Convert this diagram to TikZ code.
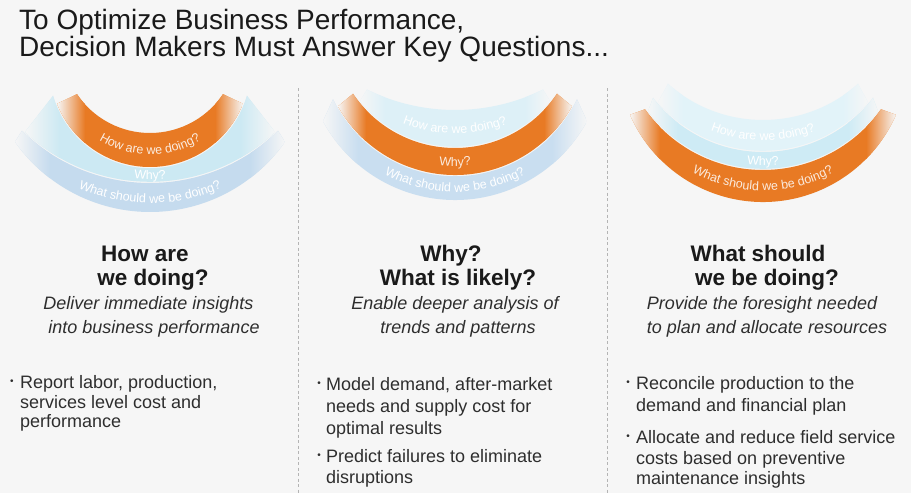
\documentclass[tikz,border=0pt]{standalone}
\usepackage{fontspec}
\setmainfont{Liberation Sans}
\usetikzlibrary{decorations.text}
\definecolor{bgc}{HTML}{F6F6F6}
\definecolor{orangeC}{HTML}{E87A24}
\definecolor{blueA}{HTML}{C5DBEE}
\definecolor{cyanA}{HTML}{CCE9F3}
\definecolor{paleB}{HTML}{DDF0F7}
\definecolor{blueB}{HTML}{C9DEF0}
\definecolor{cyanC}{HTML}{CEEBF5}
\definecolor{paleC}{HTML}{E2F3F9}
\definecolor{inkA}{HTML}{1A1A1A}
\definecolor{inkB}{HTML}{2E2E2E}
\definecolor{sepc}{HTML}{B4B4B4}
% band: colour, cx, cy(outer), R(outer), dx(outer end), cy(inner), R(inner), dx(inner end), fade width
\newcommand{\drawband}[9]{%
  \pgfmathsetmacro{\aO}{acos((#5)/(#4))}%
  \pgfmathsetmacro{\aI}{acos((#8)/(#7))}%
  \pgfmathsetmacro{\xOs}{(#2)-(#5)}%
  \pgfmathsetmacro{\yOs}{0-(#3)-(#4)*sin(\aO)}%
  \pgfmathsetmacro{\xIs}{(#2)+(#8)}%
  \pgfmathsetmacro{\yIs}{0-(#6)-(#7)*sin(\aI)}%
  \pgfmathsetmacro{\bxL}{(#2)-max(#5,#8)}%
  \pgfmathsetmacro{\bxR}{(#2)+max(#5,#8)}%
  \pgfmathsetmacro{\bxLf}{\bxL+(#9)}%
  \pgfmathsetmacro{\bxRf}{\bxR-(#9)}%
  \begin{scope}
    \clip (\xOs,\yOs) arc[start angle=180+\aO, end angle=360-\aO, radius=#4]
      -- (\xIs,\yIs) arc[start angle=360-\aI, end angle=180+\aI, radius=#7] -- cycle;
    \fill[#1] (\bxL,-40) rectangle (\bxR,-240);
    \shade[left color=bgc,right color=#1] (\bxL,-40) rectangle (\bxLf,-240);
    \shade[left color=#1,right color=bgc] (\bxRf,-40) rectangle (\bxR,-240);
  \end{scope}}
\newcommand{\arctext}[5]{%
  \pgfmathsetmacro{\txs}{(#1)+(#3)*cos(200)}%
  \pgfmathsetmacro{\tys}{0-(#2)+(#3)*sin(200)}%
  \path[decorate, decoration={text along path, text align=center,
    text={|\color{#4}\fontsize{12.5}{13}\selectfont|#5}}]
    (\txs,\tys) arc[start angle=200, end angle=340, radius=#3];}
\tikzset{
  ttl/.style={font=\fontsize{28}{30}\selectfont, text=inkA, inner sep=0pt, anchor=base west},
  hd/.style={font=\bfseries\fontsize{22.5}{24}\selectfont, text=inkA, inner sep=0pt, anchor=base},
  sb/.style={font=\itshape\fontsize{18}{20}\selectfont, text=inkB, inner sep=0pt, anchor=base},
  bl/.style={font=\fontsize{18}{20}\selectfont, text=inkB, inner sep=0pt, anchor=base west},
  dot/.style={font=\fontsize{10}{10}\selectfont, text=inkB, inner sep=0pt, anchor=center},
  sepline/.style={draw=sepc, line width=0.9pt, dash pattern=on 3pt off 2.5pt}
}
\begin{document}
\begin{tikzpicture}[x=1pt,y=1pt]
\fill[bgc] (0,0) rectangle (911,-493);
\useasboundingbox (0,0) rectangle (911,-493);

% ---- column 1 arcs
\drawband{blueA}{150}{47}{165}{135}{0}{183}{128}{35}
\drawband{cyanA}{150}{0}{181.8}{125}{67}{101.2}{97}{35}
\drawband{orangeC}{150}{67}{100}{93}{45}{88}{73}{28}
\arctext{150}{56}{98.5}{white!85!orangeC}{How are we doing?}
\arctext{150}{40}{139.5}{white}{Why?}
\arctext{150}{25}{178}{white}{What should we be doing?}

% ---- column 2 arcs
\drawband{paleB}{455}{25}{121.8}{95}{-90}{200}{88}{25}
\drawband{blueB}{455}{50}{150}{132}{41}{135.2}{122}{35}
\drawband{orangeC}{455}{41}{134}{117}{25}{123}{102}{28}
\arctext{455}{-10}{143.5}{white}{How are we doing?}
\arctext{455}{33}{133}{white!85!orangeC}{Why?}
\arctext{455}{45}{147}{white}{What should we be doing?}

% ---- column 3 arcs
\drawband{paleC}{763}{13}{137.8}{105}{-23}{143}{95}{25}
\drawband{cyanC}{763}{25}{143.8}{115}{13}{139}{110}{30}
\drawband{orangeC}{763}{57}{145}{133}{25}{145}{118}{30}
\arctext{763}{-5}{145.5}{white}{How are we doing?}
\arctext{763}{19}{146.5}{white}{Why?}
\arctext{763}{41}{149.5}{white!85!orangeC}{What should we be doing?}

% ---- separators
\coordinate (d1t) at (298,-88);
\coordinate (d1b) at (298,-493);
\coordinate (d2t) at (607,-88);
\coordinate (d2b) at (607,-493);
\draw[sepline] (d1t) -- (d1b);
\draw[sepline] (d2t) -- (d2b);

% ---- title
\node[ttl] (t1) at (19,-29) {To Optimize Business Performance,};
\node[ttl] (t2) at (19,-56) {Decision Makers Must Answer Key Questions...};

% ---- headings
\node[hd] (h1a) at (145,-261) {How are};
\node[hd] (h1b) at (153,-285) {we doing?};
\node[hd] (h2a) at (451,-261) {Why?};
\node[hd] (h2b) at (458,-285) {What is likely?};
\node[hd] (h3a) at (758,-261) {What should};
\node[hd] (h3b) at (767,-285) {we be doing?};

% ---- subtitles
\node[sb] (s1a) at (148.5,-309) {Deliver immediate insights};
\node[sb] (s1b) at (154,-333) {into business performance};
\node[sb] (s2a) at (455,-309) {Enable deeper analysis of};
\node[sb] (s2b) at (458,-333) {trends and patterns};
\node[sb] (s3a) at (762,-309) {Provide the foresight needed};
\node[sb] (s3b) at (767,-333) {to plan and allocate resources};

% ---- bullets column 1
\node[dot] (p1) at (12,-382) {•};
\node[bl] (b1a) at (20,-388) {Report labor, production,};
\node[bl] (b1b) at (20,-408) {services level cost and};
\node[bl] (b1c) at (20,-427) {performance};

% ---- bullets column 2
\node[dot] (p2) at (319,-384) {•};
\node[bl] (b2a) at (326,-390) {Model demand, after-market};
\node[bl] (b2b) at (326,-412) {needs and supply cost for};
\node[bl] (b2c) at (326,-434) {optimal results};
\node[dot] (p3) at (319,-456) {•};
\node[bl] (b2d) at (326,-462) {Predict failures to eliminate};
\node[bl] (b2e) at (326,-483) {disruptions};

% ---- bullets column 3
\node[dot] (p4) at (628,-383) {•};
\node[bl] (b3a) at (636,-389) {Reconcile production to the};
\node[bl] (b3b) at (636,-411) {demand and financial plan};
\node[dot] (p5) at (628,-437) {•};
\node[bl] (b3c) at (636,-443) {Allocate and reduce field service};
\node[bl] (b3d) at (636,-464) {costs based on preventive};
\node[bl] (b3e) at (636,-484) {maintenance insights};
\end{tikzpicture}
\end{document}
